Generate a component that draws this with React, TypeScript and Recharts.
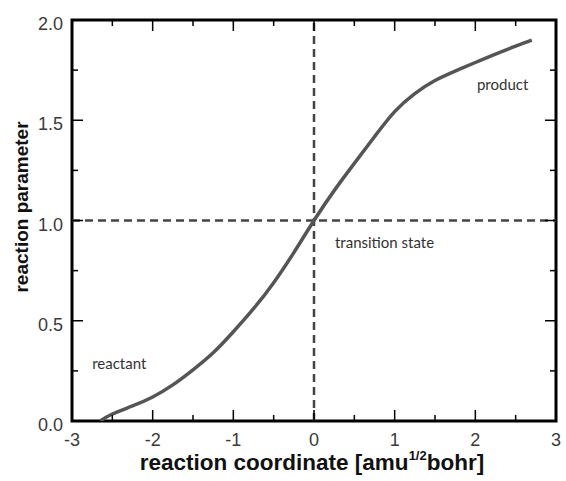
import { LineChart, Line, XAxis, YAxis, ReferenceLine, ReferenceDot, ReferenceArea, Label } from "recharts";

// reaction coordinate vs reaction parameter
const coord = [-2.65, -2.5, -2.25, -2, -1.75, -1.5, -1.25, -1, -0.75, -0.5, -0.25, 0, 0.25, 0.5, 0.75, 1, 1.25, 1.5, 1.75, 2, 2.25, 2.5, 2.7];
const param = [0, 0.035, 0.075, 0.12, 0.18, 0.255, 0.34, 0.445, 0.56, 0.69, 0.84, 1.0, 1.149, 1.285, 1.418, 1.543, 1.633, 1.698, 1.745, 1.788, 1.83, 1.87, 1.9];

const xTicks = [-3, -2.5, -2, -1.5, -1, -0.5, 0, 0.5, 1, 1.5, 2, 2.5, 3];
const yTicks = [0, 0.25, 0.5, 0.75, 1, 1.25, 1.5, 1.75, 2];

const data = coord.map((x, i) => ({ x, y: param[i] }));

const tickFont = { fontFamily: "'Liberation Sans', Arial, sans-serif", fontSize: 18, fill: "#3a3a3a" };
const noteFont = { fontFamily: "Lato, 'Open Sans', sans-serif", fontSize: 15, fill: "#333" };
const titleFont = { fontFamily: "'Liberation Sans', Arial, sans-serif", fontWeight: 700, fill: "#111" };

// plot box edges (px) for the mirrored ticks on top / right
const TOP = 20;
const RIGHT = 556;
const MAJOR = 11;
const MINOR = 6;

const BottomTick = ({ x, y, payload }: any) => {
  const len = Number.isInteger(payload.value) ? MAJOR : MINOR;
  return (
    <g>
      <line x1={x} y1={y} x2={x} y2={y - len} stroke="#000" strokeWidth={1.5} />
      <line x1={x} y1={TOP} x2={x} y2={TOP + len} stroke="#000" strokeWidth={1.5} />
      {len === MAJOR && (
        <text x={x} y={y + 25} textAnchor="middle" {...tickFont}>
          {payload.value}
        </text>
      )}
    </g>
  );
};

const LeftTick = ({ x, y, payload }: any) => {
  const len = Number.isInteger(payload.value * 2) ? MAJOR : MINOR;
  return (
    <g>
      <line x1={x} y1={y} x2={x + len} y2={y} stroke="#000" strokeWidth={1.5} />
      <line x1={RIGHT} y1={y} x2={RIGHT - len} y2={y} stroke="#000" strokeWidth={1.5} />
      {len === MAJOR && (
        <text x={x - 9} y={y + 10} textAnchor="end" {...tickFont}>
          {payload.value.toFixed(1)}
        </text>
      )}
    </g>
  );
};

const note = (text: string) => (p: any) => (
  <text x={p.viewBox.x} y={p.viewBox.y} {...noteFont}>
    {text}
  </text>
);

export default function App() {
  return (
    <div style={{ width: 566, height: 481, background: "#fff" }}>
      <style>{"body{margin:0}"}</style>
      <LineChart width={566} height={481} data={data} margin={{ top: TOP, right: 10, bottom: 59, left: 71 }}>
        <XAxis
          dataKey="x"
          type="number"
          domain={[-3, 3]}
          ticks={xTicks}
          interval={0}
          height={1}
          tickSize={0}
          tickMargin={0}
          tickLine={false}
          axisLine={false}
          tick={<BottomTick />}
          allowDataOverflow
        >
          <Label
            content={() => (
              <text x={312} y={470} textAnchor="middle" fontSize={22.5} {...titleFont}>
                reaction coordinate [amu
                <tspan fontSize={13} dy={-10}>1/2</tspan>
                <tspan dy={10}>bohr]</tspan>
              </text>
            )}
          />
        </XAxis>
        <YAxis
          type="number"
          domain={[0, 2]}
          ticks={yTicks}
          interval={0}
          width={1}
          tickSize={0}
          tickMargin={0}
          tickLine={false}
          axisLine={false}
          tick={<LeftTick />}
          allowDataOverflow
        >
          <Label
            content={() => (
              <text x={28} y={207} transform="rotate(-90, 28, 207)" textAnchor="middle" fontSize={19} {...titleFont}>
                reaction parameter
              </text>
            )}
          />
        </YAxis>
        <ReferenceLine x={0} stroke="#444" strokeWidth={2.5} strokeDasharray="8 5" />
        <ReferenceLine y={1} stroke="#444" strokeWidth={2.5} strokeDasharray="8 5" />
        <Line
          dataKey="y"
          type="natural"
          stroke="#555"
          strokeWidth={3.5}
          dot={false}
          isAnimationActive={false}
        />
        <ReferenceArea x1={-3} x2={3} y1={0} y2={2} fill="none" stroke="#000" strokeWidth={3} />
        <ReferenceDot x={-2.75} y={0.259} r={0} stroke="none" label={note("reactant")} />
        <ReferenceDot x={0.26} y={0.863} r={0} stroke="none" label={note("transition state")} />
        <ReferenceDot x={2.02} y={1.651} r={0} stroke="none" label={note("product")} />
      </LineChart>
    </div>
  );
}
